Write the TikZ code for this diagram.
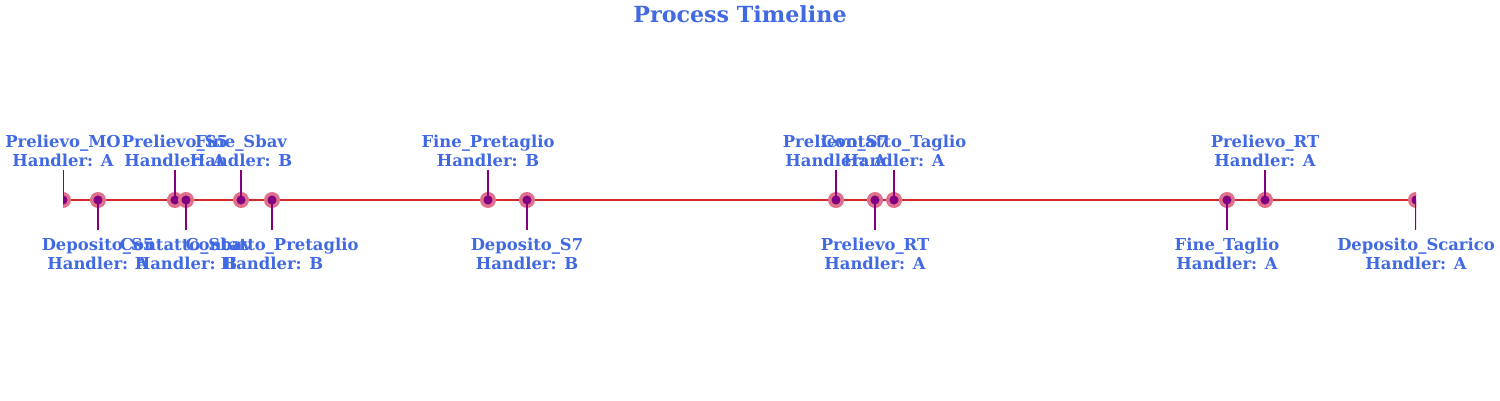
\documentclass[tikz,border=0pt]{standalone}
\usepackage{fontspec}
\setmainfont{DejaVu Serif}
\usetikzlibrary{positioning}
\definecolor{RoyalBlue}{RGB}{65,105,225}
\definecolor{LineRed}{RGB}{214,39,40}
\definecolor{HaloPink}{RGB}{224,112,140}
\definecolor{DotPurple}{RGB}{128,0,128}
\tikzset{
  event/.style={circle,fill=DotPurple,draw=HaloPink,line width=3.5pt,
    minimum size=12.5pt,inner sep=0pt},
  stem/.style={DotPurple,line width=2pt},
  label/.style={text=RoyalBlue,font=\fontsize{16.4}{19}\selectfont\bfseries,
    align=center,inner sep=0pt},
  axisline/.style={LineRed,line width=2pt}
}

\begin{document}
\begin{tikzpicture}[x=1pt,y=1pt]
\useasboundingbox (0,0) rectangle (1500,400);

% Title
\node[text=RoyalBlue,font=\fontsize{22.2}{26}\selectfont\bfseries] (title) at (740,386) {Process Timeline};

% Axis ends
\coordinate (start) at (63,200);
\coordinate (stop) at (1416,200);

\begin{scope}
\clip (63,0) rectangle (1416,400);
\draw[axisline] (start) -- (stop);

% Events
\node[event] (e1) at (63,200) {};
\node[event] (e2) at (98,200) {};
\node[event] (e3) at (175,200) {};
\node[event] (e4) at (186,200) {};
\node[event] (e5) at (241,200) {};
\node[event] (e6) at (272,200) {};
\node[event] (e7) at (488,200) {};
\node[event] (e8) at (527,200) {};
\node[event] (e9) at (836,200) {};
\node[event] (e10) at (875,200) {};
\node[event] (e11) at (894,200) {};
\node[event] (e12) at (1227,200) {};
\node[event] (e13) at (1265,200) {};
\node[event] (e14) at (1416,200) {};

% Stem tips
\coordinate (t1) at (63,230);
\coordinate (t2) at (98,170);
\coordinate (t3) at (175,230);
\coordinate (t4) at (186,170);
\coordinate (t5) at (241,230);
\coordinate (t6) at (272,170);
\coordinate (t7) at (488,230);
\coordinate (t8) at (527,170);
\coordinate (t9) at (836,230);
\coordinate (t10) at (875,170);
\coordinate (t11) at (894,230);
\coordinate (t12) at (1227,170);
\coordinate (t13) at (1265,230);
\coordinate (t14) at (1416,170);

% Stems
\draw[stem] (e1.center) -- (t1);
\draw[stem] (e2.center) -- (t2);
\draw[stem] (e3.center) -- (t3);
\draw[stem] (e4.center) -- (t4);
\draw[stem] (e5.center) -- (t5);
\draw[stem] (e6.center) -- (t6);
\draw[stem] (e7.center) -- (t7);
\draw[stem] (e8.center) -- (t8);
\draw[stem] (e9.center) -- (t9);
\draw[stem] (e10.center) -- (t10);
\draw[stem] (e11.center) -- (t11);
\draw[stem] (e12.center) -- (t12);
\draw[stem] (e13.center) -- (t13);
\draw[stem] (e14.center) -- (t14);
\end{scope}

% Labels above
\node[label] (l1) at (63,249) {Prelievo\_MO\\Handler: A};
\node[label] (l3) at (175,249) {Prelievo\_S5\\Handler: A};
\node[label] (l5) at (241,249) {Fine\_Sbav\\Handler: B};
\node[label] (l7) at (488,249) {Fine\_Pretaglio\\Handler: B};
\node[label] (l9) at (836,249) {Prelievo\_S7\\Handler: A};
\node[label] (l11) at (894,249) {Contatto\_Taglio\\Handler: A};
\node[label] (l13) at (1265,249) {Prelievo\_RT\\Handler: A};

% Labels below
\node[label] (l2) at (98,146) {Deposito\_S5\\Handler: A};
\node[label] (l4) at (186,146) {Contatto\_Sbav\\Handler: B};
\node[label] (l6) at (272,146) {Contatto\_Pretaglio\\Handler: B};
\node[label] (l8) at (527,146) {Deposito\_S7\\Handler: B};
\node[label] (l10) at (875,146) {Prelievo\_RT\\Handler: A};
\node[label] (l12) at (1227,146) {Fine\_Taglio\\Handler: A};
\node[label] (l14) at (1416,146) {Deposito\_Scarico\\Handler: A};

\end{tikzpicture}
\end{document}
